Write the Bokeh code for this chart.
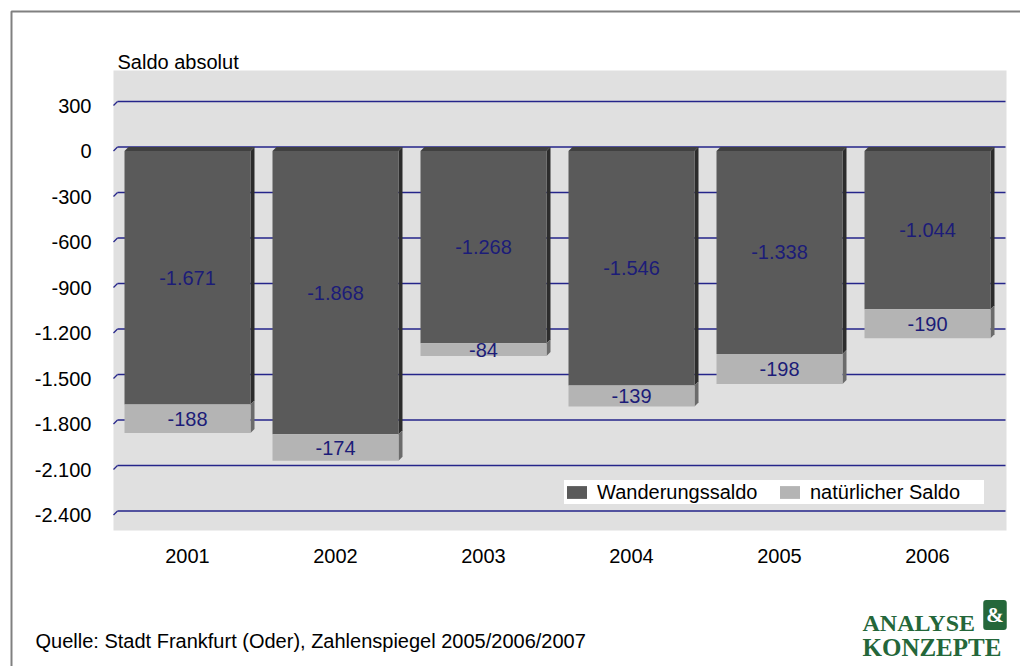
from bokeh.plotting import figure
from bokeh.models import (Range1d, FixedTicker, Label, Legend, LegendItem,
                          BoxAnnotation, ColumnDataSource)
from bokeh.core.properties import value
from bokeh.embed import file_html
from bokeh.resources import INLINE

# ---------------- data ----------------
years = ["2001", "2002", "2003", "2004", "2005", "2006"]
wanderungssaldo = [-1671, -1868, -1268, -1546, -1338, -1044]
natuerlicher_saldo = [-188, -174, -84, -139, -198, -190]
tick_values = [300, 0, -300, -600, -900, -1200, -1500, -1800, -2100, -2400]
tick_labels = ["300", "0", "-300", "-600", "-900", "-1.200", "-1.500",
               "-1.800", "-2.100", "-2.400"]
series_names = ["Wanderungssaldo", "natürlicher Saldo"]
y_title = "Saldo absolut"
source_text = "Quelle: Stadt Frankfurt (Oder), Zahlenspiegel 2005/2006/2007"

# ---------------- layout / style ----------------
FONT = "Liberation Sans"
W, H = 1020, 666          # canvas size
CAT_PX = 148.0            # pixels per category
PPU = 45.5 / 300.0        # pixels per value unit
AREA_L, AREA_R, AREA_T, AREA_B = 113.0, 1006.0, 70.0, 530.0  # plot area (px)
ZERO_PX = 150.5           # pixel row of value 0 (front plane)
DEPTH = 4.0               # 3D depth in px


def xd(px):
    return (px - AREA_L) / CAT_PX


def yd(py):
    return (ZERO_PX - py) / PPU


def fmt(v):
    return f"{v:,}".replace(",", ".")


dx = DEPTH / CAT_PX
dy = DEPTH / PPU
bar_w = 126.0 / 148.0

DARK_FRONT, DARK_TOP, DARK_SIDE = "#5a5a5a", "#404040", "#2c2c2c"
LIGHT_FRONT, LIGHT_SIDE = "#b4b4b4", "#6b6b6b"
GRID = "#25258a"
NAVY = "#1c1c78"
GREEN = "#24673a"

p = figure(width=W, height=H,
           x_range=Range1d(xd(0), xd(W)), y_range=Range1d(yd(H), yd(0)),
           output_backend="svg", toolbar_location=None, min_border=0)
p.background_fill_color = "white"
p.border_fill_color = "white"
p.outline_line_color = None
p.xgrid.visible = False
p.ygrid.visible = False

# plot area background (3D back wall)
p.add_layout(BoxAnnotation(left=xd(AREA_L), right=xd(AREA_R), top=yd(AREA_T),
                           bottom=yd(AREA_B), fill_color="#e0e0e0",
                           fill_alpha=1.0, line_color=None, level="underlay"))

centers = [i + 0.5 for i in range(len(years))]
lefts = [c - bar_w / 2 for c in centers]
rights = [c + bar_w / 2 for c in centers]
totals = [w + n for w, n in zip(wanderungssaldo, natuerlicher_saldo)]

# ---------------- back-wall gridlines ----------------
gx0, gy0, gx1, gy1 = [], [], [], []
for t in tick_values:
    gx0 += [0, dx]
    gy0 += [t, t + dy]
    gx1 += [dx, xd(AREA_R - 1)]
    gy1 += [t + dy, t + dy]
p.segment(gx0, gy0, gx1, gy1, line_color=GRID, line_width=1.3)

# ---------------- 3D side / top faces ----------------
top_xs = [[l, l + dx, r + dx, r] for l, r in zip(lefts, rights)]
top_ys = [[0, dy, dy, 0] for _ in centers]
p.patches(top_xs, top_ys, fill_color=DARK_TOP, line_color=None)

side_w_xs = [[r, r + dx, r + dx, r] for r in rights]
side_w_ys = [[0, dy, w + dy, w] for w in wanderungssaldo]
p.patches(side_w_xs, side_w_ys, fill_color=DARK_SIDE, line_color=None)

side_n_xs = [[r, r + dx, r + dx, r] for r in rights]
side_n_ys = [[w, w + dy, t + dy, t] for w, t in zip(wanderungssaldo, totals)]
p.patches(side_n_xs, side_n_ys, fill_color=LIGHT_SIDE, line_color=None)

# ---------------- front faces ----------------
src = ColumnDataSource(dict(
    left=lefts, right=rights, w=wanderungssaldo, n=natuerlicher_saldo,
    total=totals, zero=[0] * len(years)))
r_w = p.quad(left="left", right="right", top="zero", bottom="w", source=src,
             fill_color=DARK_FRONT, line_color=None)
r_n = p.quad(left="left", right="right", top="w", bottom="total", source=src,
             fill_color=LIGHT_FRONT, line_color=None)

# ---------------- value labels ----------------
lab_x = centers + centers
lab_y = [w / 2 for w in wanderungssaldo] + \
        [(w + t) / 2 for w, t in zip(wanderungssaldo, totals)]
lab_t = [fmt(v) for v in wanderungssaldo] + [fmt(v) for v in natuerlicher_saldo]
p.text(x=lab_x, y=lab_y, text=lab_t, text_font=value(FONT),
       text_font_size="20px", text_color=NAVY, text_align="center",
       text_baseline="middle")

# ---------------- axes (placed at the plot-area edges) ----------------
p.xaxis.fixed_location = yd(AREA_B)
p.yaxis.fixed_location = xd(AREA_L)
p.xaxis.ticker = FixedTicker(ticks=centers)
p.xaxis.major_label_overrides = {c: y for c, y in zip(centers, years)}
p.yaxis.ticker = FixedTicker(ticks=tick_values)
p.yaxis.major_label_overrides = {v: l for v, l in zip(tick_values, tick_labels)}
for ax in (p.xaxis, p.yaxis):
    ax.axis_line_color = None
    ax.major_tick_line_color = None
    ax.minor_tick_line_color = None
    ax.major_tick_out = 0
    ax.major_tick_in = 0
    ax.major_label_text_font = FONT
    ax.major_label_text_font_size = "20px"
    ax.major_label_text_color = "#000000"
p.yaxis.major_label_standoff = 22
p.xaxis.major_label_standoff = 18

# ---------------- legend ----------------
legend = Legend(items=[LegendItem(label=series_names[0], renderers=[r_w]),
                       LegendItem(label=series_names[1], renderers=[r_n])],
                location=(564, H - 504), orientation="horizontal",
                background_fill_color="white", background_fill_alpha=1.0,
                border_line_color=None, padding=4, margin=0, spacing=6,
                glyph_width=25, glyph_height=16, label_standoff=8,
                label_width=174, label_height=24, label_text_font=FONT,
                label_text_font_size="20px", label_text_color="#000000")
p.add_layout(legend)

# ---------------- texts ----------------
p.add_layout(Label(x=xd(117), y=yd(61.5), text=y_title, text_font=FONT,
                   text_font_size="20px", text_color="#000000",
                   text_align="left", text_baseline="alphabetic"))
p.add_layout(Label(x=xd(35), y=yd(640), text=source_text, text_font=FONT,
                   text_font_size="20px", text_color="#000000",
                   text_align="left", text_baseline="alphabetic"))

p.add_layout(Label(x=xd(862), y=yd(622.5), text="ANALYSE",
                   text_font="Liberation Serif", text_font_style="bold",
                   text_font_size="24px", text_color=GREEN,
                   text_align="left", text_baseline="alphabetic"))
p.add_layout(Label(x=xd(862), y=yd(647), text="KONZEPTE",
                   text_font="Liberation Serif", text_font_style="bold",
                   text_font_size="25px", text_color=GREEN,
                   text_align="left", text_baseline="alphabetic"))
p.add_layout(Label(x=xd(994.5), y=yd(614.5), text="&",
                   text_font="Liberation Serif", text_font_style="bold",
                   text_font_size="21px", text_color="white",
                   text_align="center", text_baseline="middle",
                   background_fill_color=GREEN, padding=3, border_radius=3))

# outer border of the chart
p.add_layout(BoxAnnotation(left=xd(11), right=xd(W + 100), top=yd(11),
                           bottom=yd(H + 100), fill_alpha=0,
                           line_color="#808080", line_alpha=1.0,
                           line_width=2))

open("out.html", "w").write(file_html(p, INLINE))
